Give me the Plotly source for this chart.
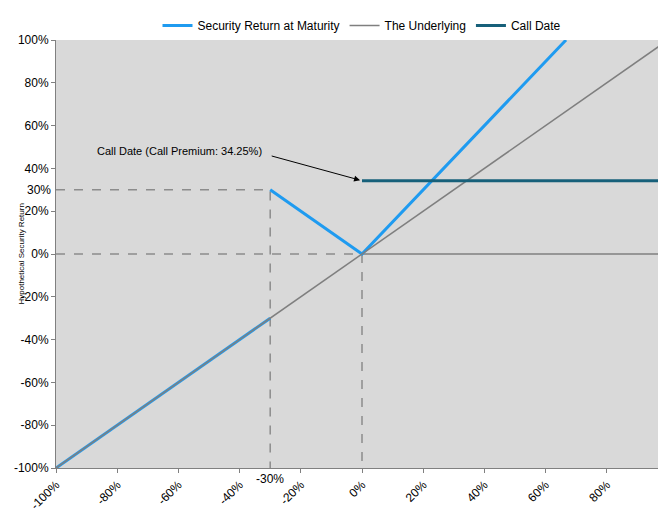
import plotly.graph_objects as go

sec_x = [-100, -30, None, -30, 0, 66.67]
sec_y = [-100, -30, None, 30, 0, 100]
und_x = [-100, 100]
und_y = [-100, 100]
call_x = [0, 100]
call_y = [34.25, 34.25]
call_label = "Call Date (Call Premium: 34.25%)"
ticks = [-100, -80, -60, -40, -20, 0, 20, 40, 60, 80, 100]
ticktext = [f"{t}%" for t in ticks]

fig = go.Figure()
grey = "#7f7f7f"
dash = dict(color="#8c8c8c", width=1.5, dash="dash")
fig.add_trace(go.Scatter(x=[-100, -30, -30], y=[30, 30, -100], mode="lines", line=dash, showlegend=False))
fig.add_trace(go.Scatter(x=[-100, 0, 0], y=[0, 0, -100], mode="lines", line=dash, showlegend=False))
fig.add_trace(go.Scatter(x=[0, 100], y=[0, 0], mode="lines", line=dict(color=grey, width=1.5), showlegend=False))
fig.add_trace(go.Scatter(x=sec_x, y=sec_y, mode="lines", name="Security Return at Maturity",
                         line=dict(color="#1f9bf0", width=3), connectgaps=False))
fig.add_trace(go.Scatter(x=und_x, y=und_y, mode="lines", name="The Underlying",
                         line=dict(color=grey, width=1.5)))
fig.add_trace(go.Scatter(x=call_x, y=call_y, mode="lines", name="Call Date",
                         line=dict(color="#17607a", width=3)))

fig.add_annotation(x=0, y=call_y[0], ax=-30, ay=46, axref="x", ayref="y", xref="x", yref="y",
                   text="", showarrow=True, arrowhead=2, arrowsize=1.2, arrowwidth=1, arrowcolor="black",
                   standoff=2)
fig.add_annotation(x=-32, y=48, xref="x", yref="y", text=call_label, showarrow=False,
                   xanchor="right", font=dict(size=11, color="black"))
fig.add_annotation(x=0, xref="paper", y=30, yref="y", text="30%", showarrow=False, xanchor="right",
                   xshift=-3, font=dict(size=12, color="black"))
fig.add_annotation(x=-30, xref="x", y=0, yref="paper", text="-30%", showarrow=False, yanchor="top",
                   yshift=-2, font=dict(size=12, color="black"))
fig.add_annotation(x=0.5, xref="paper", y=0, yref="paper", yshift=-50, yanchor="top", showarrow=False,
                   text="Hypothetical Percentage Change in Closing Value of the Underlying from Pricing Date to Applicable Calculation Day",
                   font=dict(size=9))
fig.add_annotation(x=0, xref="paper", xshift=-42, y=0.5, yref="paper", textangle=-90, showarrow=False,
                   text="Hypothetical Security Return", font=dict(size=8))

fig.update_layout(
    width=666, height=519, paper_bgcolor="white", plot_bgcolor="#d9d9d9",
    margin=dict(l=48, r=6, t=32, b=59, autoexpand=False),
    font=dict(family="Arial, Liberation Sans", size=12, color="black"),
    legend=dict(orientation="h", x=0.5, xanchor="center", y=1.0, yanchor="bottom",
                font=dict(size=12), traceorder="normal"),
    xaxis=dict(range=[-100, 100], tickvals=ticks, ticktext=ticktext, tickangle=-45, automargin=False,
               showgrid=False, zeroline=False, showline=True, linecolor="#808080",
               ticks="outside", ticklen=4, tickcolor="#808080"),
    yaxis=dict(range=[-100, 100], tickvals=ticks, ticktext=ticktext, automargin=False,
               showgrid=False, zeroline=False, showline=True, linecolor="#808080",
               ticks="outside", ticklen=4, tickcolor="#808080"),
)
fig.write_html("out.html")
